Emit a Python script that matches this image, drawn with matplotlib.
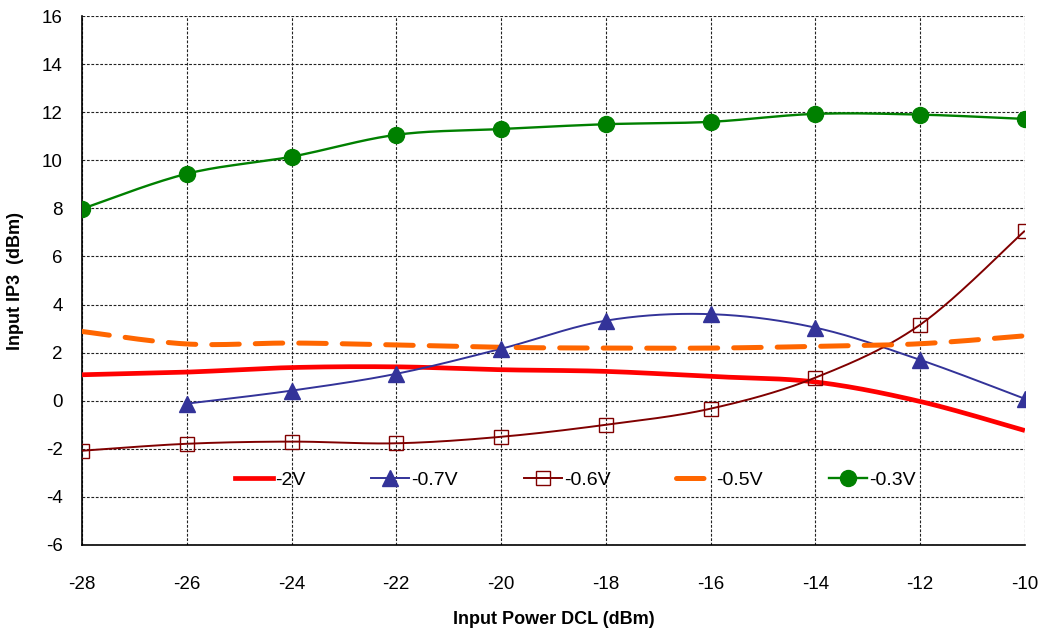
""" Input IP3 vs input power, smoothed curves in the Excel style """
import matplotlib
import matplotlib.pyplot as plt
import numpy as np

matplotlib.use("Agg")

plt.rcParams["font.family"] = ["Liberation Sans", "DejaVu Sans"]
plt.rcParams["axes.unicode_minus"] = False

X_ALL = [-28, -26, -24, -22, -20, -18, -16, -14, -12, -10]
X_07 = [-26, -24, -22, -20, -18, -16, -14, -12, -10]

Y_2V = [1.08, 1.19, 1.38, 1.41, 1.29, 1.22, 1.01, 0.78, -0.03, -1.24]
Y_07V = [-0.12, 0.42, 1.12, 2.16, 3.33, 3.6, 3.04, 1.7, 0.08]
Y_06V = [-2.08, -1.79, -1.7, -1.77, -1.5, -1.0, -0.33, 0.96, 3.16, 7.07]
Y_05V = [2.88, 2.36, 2.4, 2.32, 2.22, 2.19, 2.19, 2.26, 2.37, 2.7]
Y_03V = [7.98, 9.44, 10.15, 11.06, 11.3, 11.5, 11.6, 11.93, 11.9, 11.72]

LABELS = ["-2V", "-0.7V", "-0.6V", "-0.5V", "-0.3V"]


##################################################
def smooth(xs, ys, n=30):
	""" Courbe lissée (Bezier type Catmull-Rom) passant par les points. """
	p = np.column_stack((xs, ys)).astype(float)
	p_ext = np.vstack((p[0], p, p[-1]))
	out = []
	t = np.linspace(0, 1, n)[:, None]
	for i in range(len(p) - 1):
		p0, p1, p2, p3 = p_ext[i], p_ext[i + 1], p_ext[i + 2], p_ext[i + 3]
		c1 = p1 + (p2 - p0) / 6
		c2 = p2 - (p3 - p1) / 6
		seg = (1 - t) ** 3 * p1 + 3 * (1 - t) ** 2 * t * c1 + 3 * (1 - t) * t ** 2 * c2 + t ** 3 * p2
		out.append(seg if i == 0 else seg[1:])
	curve = np.vstack(out)
	return curve[:, 0], curve[:, 1]


fig = plt.figure(figsize=(10.49, 6.31), dpi=100)
ax = fig.add_axes([0.0782, 0.1363, 0.8988, 0.8383])

series = [
	(X_ALL, Y_2V, dict(color="#FF0000", lw=3.4), None),
	(X_07, Y_07V, dict(color="#333399", lw=1.4), dict(marker="^", ms=11, mfc="#333399", mec="#333399")),
	(X_ALL, Y_06V, dict(color="#800000", lw=1.4), dict(marker="s", ms=10.5, mfc="none", mec="#800000", mew=1.0)),
	(X_ALL, Y_05V, dict(color="#FF6600", lw=3.6, ls=(0, (5.5, 3.2)), dash_capstyle="round"), None),
	(X_ALL, Y_03V, dict(color="#008000", lw=1.7), dict(marker="o", ms=11.5, mfc="#008000", mec="#008000")),
]

handles = []
for (xs, ys, lstyle, mstyle), label in zip(series, LABELS):
	sx, sy = smooth(xs, ys)
	ax.plot(sx, sy, solid_capstyle="butt", zorder=3, **lstyle)
	if mstyle:
		ax.plot(xs, ys, ls="none", zorder=4, **mstyle)
	h, = ax.plot([], [], label=label, **lstyle, **(mstyle or {}))
	handles.append(h)

ax.set_xlim(-28, -10)
ax.set_ylim(-6, 16)
ax.set_xticks(np.arange(-28, -9, 2))
ax.set_yticks(np.arange(-6, 17, 2))
ax.tick_params(length=0, labelsize=13.5)
ax.tick_params(axis="x", pad=22)
ax.tick_params(axis="y", pad=14)
ax.grid(True, color="#222222", lw=0.8, ls=(0, (2.5, 1.5)))
ax.set_axisbelow(True)
for side in ("top", "right"):
	ax.spines[side].set_visible(False)
for side in ("left", "bottom"):
	ax.spines[side].set_linewidth(1.2)

ax.set_xlabel("Input Power DCL (dBm)", fontsize=13, fontweight="bold")
ax.set_ylabel("Input IP3  (dBm)", fontsize=13, fontweight="bold")
ax.xaxis.set_label_coords(0.5, -0.125)
ax.yaxis.set_label_coords(-0.062, 0.5)

ax.legend(handles=handles, loc="center", bbox_to_anchor=(0.523, 0.123), ncol=5, frameon=False,
	fontsize=14, handlelength=1.95, handletextpad=0.1, columnspacing=3.4)

fig.savefig("out.png", dpi=100)
plt.close(fig)
